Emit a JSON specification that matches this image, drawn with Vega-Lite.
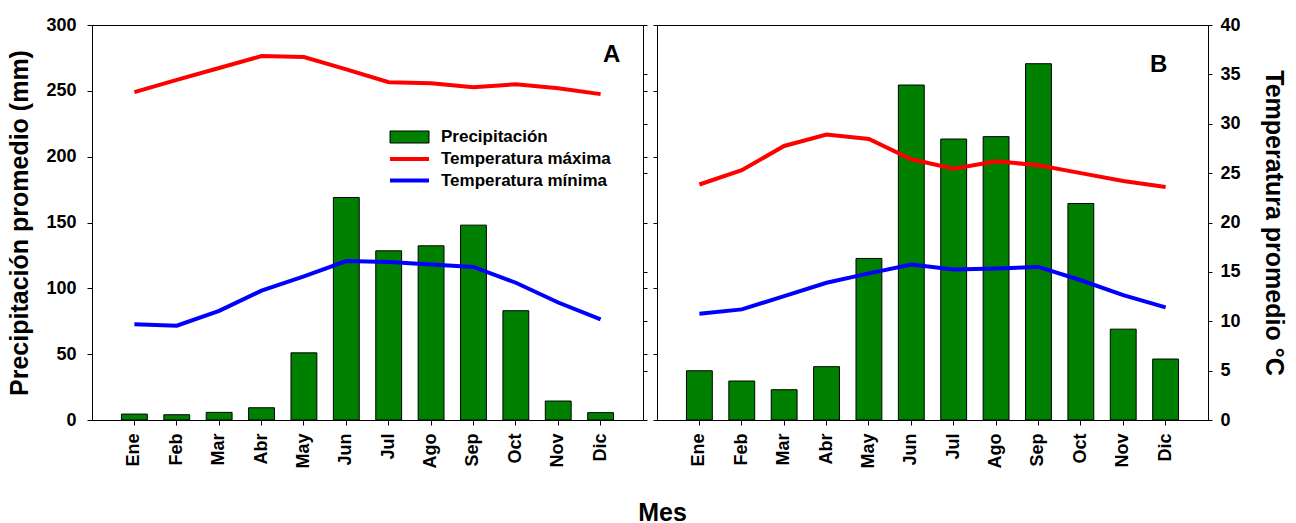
{
  "$schema": "https://vega.github.io/schema/vega-lite/v6.json",
  "padding": {"left": 7, "top": 15, "right": 5, "bottom": 0},
  "background": "white",
  "config": {
    "font": "Liberation Sans",
    "view": {"stroke": "black", "strokeWidth": 1},
    "axis": {"grid": false, "domainColor": "black", "tickColor": "black", "labelColor": "black", "titleColor": "black", "labelFont": "Liberation Sans", "titleFont": "Liberation Sans", "labelFontWeight": "bold", "titleFontWeight": "bold", "labelFontSize": 18, "titleFontSize": 25, "tickSize": 5},
    "concat": {"spacing": 4}
  },
  "title": {"text": "Mes", "orient": "bottom", "anchor": "middle", "fontSize": 25, "fontWeight": "bold", "font": "Liberation Sans", "color": "black", "offset": 32, "dx": 16},
  "datasets": {
    "bars": [
      {"p": "A", "mes": "Ene", "serie": "Precipitación", "mm": 4.5},
      {"p": "A", "mes": "Feb", "serie": "Precipitación", "mm": 4},
      {"p": "A", "mes": "Mar", "serie": "Precipitación", "mm": 5.8},
      {"p": "A", "mes": "Abr", "serie": "Precipitación", "mm": 9.3},
      {"p": "A", "mes": "May", "serie": "Precipitación", "mm": 51},
      {"p": "A", "mes": "Jun", "serie": "Precipitación", "mm": 169},
      {"p": "A", "mes": "Jul", "serie": "Precipitación", "mm": 128.5},
      {"p": "A", "mes": "Ago", "serie": "Precipitación", "mm": 132.3},
      {"p": "A", "mes": "Sep", "serie": "Precipitación", "mm": 148},
      {"p": "A", "mes": "Oct", "serie": "Precipitación", "mm": 83},
      {"p": "A", "mes": "Nov", "serie": "Precipitación", "mm": 14.4},
      {"p": "A", "mes": "Dic", "serie": "Precipitación", "mm": 5.6},
      {"p": "B", "mes": "Ene", "serie": "Precipitación", "mm": 37.4},
      {"p": "B", "mes": "Feb", "serie": "Precipitación", "mm": 29.6},
      {"p": "B", "mes": "Mar", "serie": "Precipitación", "mm": 23},
      {"p": "B", "mes": "Abr", "serie": "Precipitación", "mm": 40.5},
      {"p": "B", "mes": "May", "serie": "Precipitación", "mm": 122.7},
      {"p": "B", "mes": "Jun", "serie": "Precipitación", "mm": 254.4},
      {"p": "B", "mes": "Jul", "serie": "Precipitación", "mm": 213.4},
      {"p": "B", "mes": "Ago", "serie": "Precipitación", "mm": 215.2},
      {"p": "B", "mes": "Sep", "serie": "Precipitación", "mm": 270.6},
      {"p": "B", "mes": "Oct", "serie": "Precipitación", "mm": 164.4},
      {"p": "B", "mes": "Nov", "serie": "Precipitación", "mm": 69},
      {"p": "B", "mes": "Dic", "serie": "Precipitación", "mm": 46.3}
    ],
    "temps": [
      {"p": "A", "mes": "Ene", "serie": "Temperatura máxima", "t": 33.2},
      {"p": "A", "mes": "Feb", "serie": "Temperatura máxima", "t": 34.45},
      {"p": "A", "mes": "Mar", "serie": "Temperatura máxima", "t": 35.65},
      {"p": "A", "mes": "Abr", "serie": "Temperatura máxima", "t": 36.85},
      {"p": "A", "mes": "May", "serie": "Temperatura máxima", "t": 36.75},
      {"p": "A", "mes": "Jun", "serie": "Temperatura máxima", "t": 35.5},
      {"p": "A", "mes": "Jul", "serie": "Temperatura máxima", "t": 34.2},
      {"p": "A", "mes": "Ago", "serie": "Temperatura máxima", "t": 34.1},
      {"p": "A", "mes": "Sep", "serie": "Temperatura máxima", "t": 33.7},
      {"p": "A", "mes": "Oct", "serie": "Temperatura máxima", "t": 34.0},
      {"p": "A", "mes": "Nov", "serie": "Temperatura máxima", "t": 33.6},
      {"p": "A", "mes": "Dic", "serie": "Temperatura máxima", "t": 33.0},
      {"p": "A", "mes": "Ene", "serie": "Temperatura mínima", "t": 9.7},
      {"p": "A", "mes": "Feb", "serie": "Temperatura mínima", "t": 9.55},
      {"p": "A", "mes": "Mar", "serie": "Temperatura mínima", "t": 11.05},
      {"p": "A", "mes": "Abr", "serie": "Temperatura mínima", "t": 13.1},
      {"p": "A", "mes": "May", "serie": "Temperatura mínima", "t": 14.55},
      {"p": "A", "mes": "Jun", "serie": "Temperatura mínima", "t": 16.1},
      {"p": "A", "mes": "Jul", "serie": "Temperatura mínima", "t": 16.0},
      {"p": "A", "mes": "Ago", "serie": "Temperatura mínima", "t": 15.75},
      {"p": "A", "mes": "Sep", "serie": "Temperatura mínima", "t": 15.5},
      {"p": "A", "mes": "Oct", "serie": "Temperatura mínima", "t": 13.9},
      {"p": "A", "mes": "Nov", "serie": "Temperatura mínima", "t": 11.9},
      {"p": "A", "mes": "Dic", "serie": "Temperatura mínima", "t": 10.2},
      {"p": "B", "mes": "Ene", "serie": "Temperatura máxima", "t": 23.85},
      {"p": "B", "mes": "Feb", "serie": "Temperatura máxima", "t": 25.3},
      {"p": "B", "mes": "Mar", "serie": "Temperatura máxima", "t": 27.75},
      {"p": "B", "mes": "Abr", "serie": "Temperatura máxima", "t": 28.9},
      {"p": "B", "mes": "May", "serie": "Temperatura máxima", "t": 28.45},
      {"p": "B", "mes": "Jun", "serie": "Temperatura máxima", "t": 26.4},
      {"p": "B", "mes": "Jul", "serie": "Temperatura máxima", "t": 25.45},
      {"p": "B", "mes": "Ago", "serie": "Temperatura máxima", "t": 26.2},
      {"p": "B", "mes": "Sep", "serie": "Temperatura máxima", "t": 25.8},
      {"p": "B", "mes": "Oct", "serie": "Temperatura máxima", "t": 25.0},
      {"p": "B", "mes": "Nov", "serie": "Temperatura máxima", "t": 24.2},
      {"p": "B", "mes": "Dic", "serie": "Temperatura máxima", "t": 23.6},
      {"p": "B", "mes": "Ene", "serie": "Temperatura mínima", "t": 10.75},
      {"p": "B", "mes": "Feb", "serie": "Temperatura mínima", "t": 11.2},
      {"p": "B", "mes": "Mar", "serie": "Temperatura mínima", "t": 12.55},
      {"p": "B", "mes": "Abr", "serie": "Temperatura mínima", "t": 13.9},
      {"p": "B", "mes": "May", "serie": "Temperatura mínima", "t": 14.85},
      {"p": "B", "mes": "Jun", "serie": "Temperatura mínima", "t": 15.75},
      {"p": "B", "mes": "Jul", "serie": "Temperatura mínima", "t": 15.25},
      {"p": "B", "mes": "Ago", "serie": "Temperatura mínima", "t": 15.35},
      {"p": "B", "mes": "Sep", "serie": "Temperatura mínima", "t": 15.5},
      {"p": "B", "mes": "Oct", "serie": "Temperatura mínima", "t": 14.15},
      {"p": "B", "mes": "Nov", "serie": "Temperatura mínima", "t": 12.65},
      {"p": "B", "mes": "Dic", "serie": "Temperatura mínima", "t": 11.4}
    ],
    "etiquetas": [
      {"p": "A", "label": "A"},
      {"p": "B", "label": "B"}
    ]
  },
  "hconcat": [
    {
      "width": 551,
      "height": 395,
      "layer": [
        {
          "layer": [
            {
              "data": {"name": "bars"},
              "transform": [{"filter": "datum.p === 'A'"}],
              "mark": {"type": "bar", "stroke": "black", "strokeWidth": 1},
              "encoding": {
                "x": {"field": "mes", "type": "nominal", "sort": ["Ene","Feb","Mar","Abr","May","Jun","Jul","Ago","Sep","Oct","Nov","Dic"], "scale": {"paddingInner": 0.39, "paddingOuter": 0.695}, "axis": {"title": null, "labelAngle": -90, "labelPadding": 8}},
                "y": {"field": "mm", "type": "quantitative", "scale": {"domain": [0, 300], "nice": false}, "axis": {"title": "Precipitación promedio (mm)", "values": [0, 50, 100, 150, 200, 250, 300], "titlePadding": 13, "labelPadding": 11}},
                "fill": {
                  "field": "serie", "type": "nominal",
                  "scale": {"domain": ["Precipitación"], "range": ["#008000"]},
                  "legend": {
                    "title": null, "orient": "none", "legendX": 309, "legendY": 103.5,
                    "labelFont": "Liberation Sans", "labelFontSize": 17, "labelFontWeight": "bold", "labelColor": "black", "labelLimit": 400,
                    "symbolSize": 144, "labelOffset": 23, "symbolType": "M-3.25,-1H3.25V1H-3.25Z",
                    "symbolStrokeColor": "black", "symbolStrokeWidth": 1, "symbolOpacity": 1
                  }
                }
              }
            },
            {
              "data": {"name": "etiquetas"},
              "transform": [{"filter": "datum.p === 'A'"}],
              "mark": {"type": "text", "fontSize": 24, "fontWeight": "bold", "font": "Liberation Sans", "color": "black", "dx": 11},
              "encoding": {"x": {"datum": "Dic"}, "y": {"datum": 277}, "text": {"field": "label"}}
            }
          ]
        },
        {
          "data": {"name": "temps"},
          "transform": [{"filter": "datum.p === 'A'"}],
          "mark": {"type": "line", "strokeWidth": 4},
          "encoding": {
            "x": {"field": "mes", "type": "nominal", "sort": ["Ene","Feb","Mar","Abr","May","Jun","Jul","Ago","Sep","Oct","Nov","Dic"]},
            "y": {"field": "t", "type": "quantitative", "scale": {"domain": [0, 40], "nice": false}, "axis": {"orient": "right", "labels": false, "title": null, "tickSize": 4, "values": [0, 5, 6.667, 10, 13.333, 15, 20, 25, 26.667, 30, 33.333, 35, 40]}},
            "stroke": {
              "field": "serie", "type": "nominal",
              "scale": {"domain": ["Temperatura máxima", "Temperatura mínima"], "range": ["#ff0000", "#0000ff"]},
              "legend": {
                "title": null, "orient": "none", "legendX": 309, "legendY": 125.5,
                "labelFont": "Liberation Sans", "labelFontSize": 17, "labelFontWeight": "bold", "labelColor": "black", "labelLimit": 400,
                "symbolSize": 144, "labelOffset": 23, "rowPadding": 3.5, "symbolType": "M-3.25,0H3.25",
                "symbolStrokeWidth": 4, "symbolOpacity": 1
              }
            }
          }
        }
      ],
      "resolve": {"scale": {"y": "independent"}}
    },
    {
      "width": 551,
      "height": 395,
      "layer": [
        {
          "layer": [
            {
              "data": {"name": "bars"},
              "transform": [{"filter": "datum.p === 'B'"}],
              "mark": {"type": "bar", "stroke": "black", "strokeWidth": 1, "fill": "#008000"},
              "encoding": {
                "x": {"field": "mes", "type": "nominal", "sort": ["Ene","Feb","Mar","Abr","May","Jun","Jul","Ago","Sep","Oct","Nov","Dic"], "scale": {"paddingInner": 0.39, "paddingOuter": 0.695}, "axis": {"title": null, "labelAngle": -90, "labelPadding": 8}},
                "y": {"field": "mm", "type": "quantitative", "scale": {"domain": [0, 300], "nice": false}, "axis": {"title": null, "labels": false, "tickSize": 4, "values": [0, 37.5, 50, 75, 100, 112.5, 150, 187.5, 200, 225, 250, 262.5, 300]}}
              }
            },
            {
              "data": {"name": "etiquetas"},
              "transform": [{"filter": "datum.p === 'B'"}],
              "mark": {"type": "text", "fontSize": 24, "fontWeight": "bold", "font": "Liberation Sans", "color": "black", "dx": -7},
              "encoding": {"x": {"datum": "Dic"}, "y": {"datum": 270}, "text": {"field": "label"}}
            }
          ]
        },
        {
          "data": {"name": "temps"},
          "transform": [{"filter": "datum.p === 'B'"}],
          "mark": {"type": "line", "strokeWidth": 4},
          "encoding": {
            "x": {"field": "mes", "type": "nominal", "sort": ["Ene","Feb","Mar","Abr","May","Jun","Jul","Ago","Sep","Oct","Nov","Dic"]},
            "y": {"field": "t", "type": "quantitative", "scale": {"domain": [0, 40], "nice": false}, "axis": {"orient": "right", "title": "Temperatura promedio °C", "titlePadding": 20, "labelPadding": 8, "tickSize": 4, "values": [0, 5, 10, 15, 20, 25, 30, 35, 40]}},
            "stroke": {"field": "serie", "type": "nominal", "scale": {"domain": ["Temperatura máxima", "Temperatura mínima"], "range": ["#ff0000", "#0000ff"]}, "legend": null}
          }
        }
      ],
      "resolve": {"scale": {"y": "independent"}}
    }
  ],
  "resolve": {"scale": {"fill": "independent", "stroke": "independent"}, "legend": {"fill": "independent", "stroke": "independent"}}
}
